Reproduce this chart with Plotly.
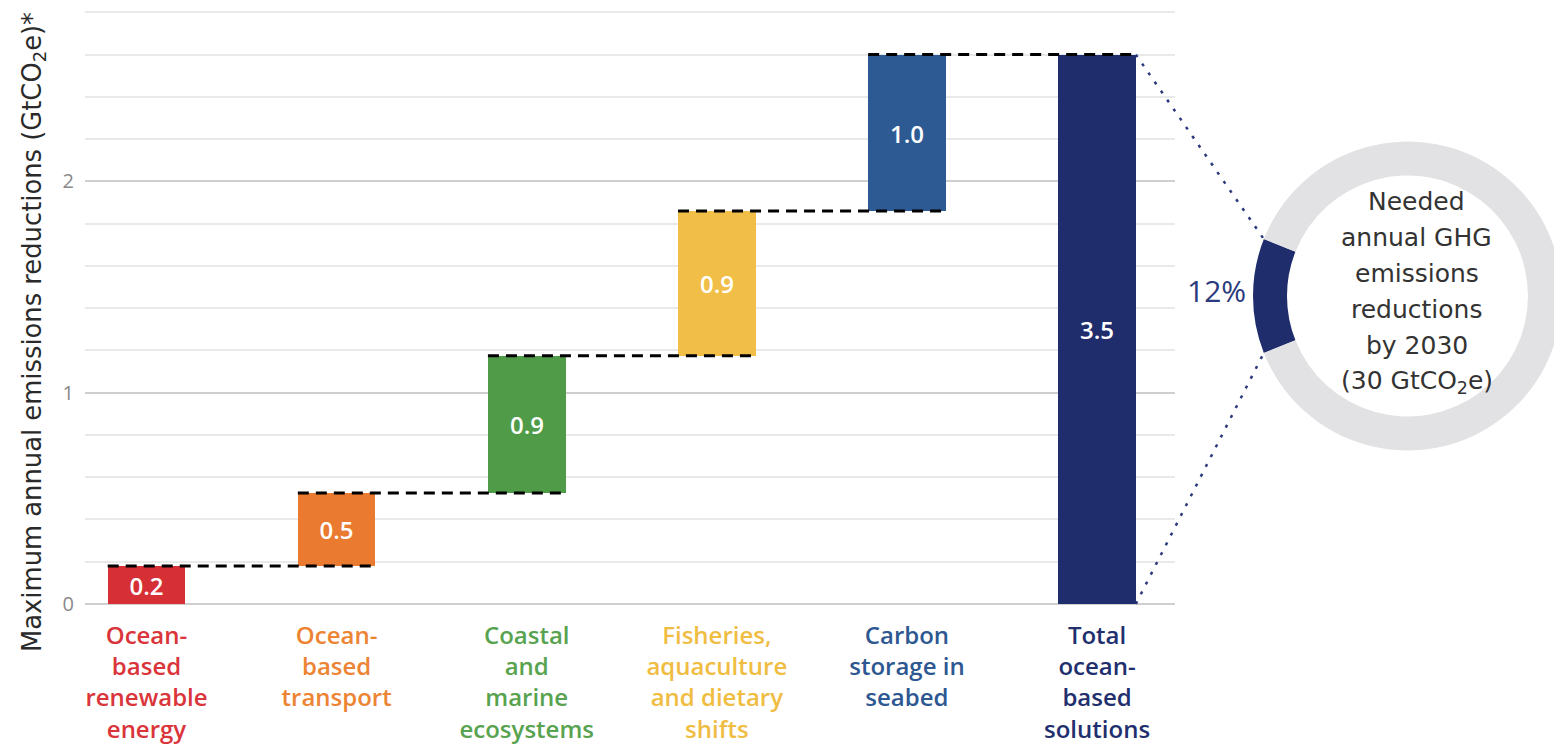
import plotly.graph_objects as go
import numpy as np

# ---------------- data ----------------
categories = [
    "Ocean-<br>based<br>renewable<br>energy",
    "Ocean-<br>based<br>transport",
    "Coastal<br>and<br>marine<br>ecosystems",
    "Fisheries,<br>aquaculture<br>and dietary<br>shifts",
    "Carbon<br>storage in<br>seabed",
    "Total<br>ocean-<br>based<br>solutions",
]
# step heights as drawn on the axis (axis units)
step_heights = [0.18, 0.345, 0.65, 0.685, 0.74]
# labels printed inside the bars
value_labels = ["0.2", "0.5", "0.9", "0.9", "1.0", "3.5"]
bar_colors = ["#d62f36", "#e97a30", "#4f9b48", "#f1bf47", "#2e5a94", "#1f2d6c"]
label_colors = ["#d9353b", "#ec8433", "#58a350", "#f0bd43", "#2d5891", "#222f6e"]
y_tickvals = [0, 1, 2]
y_ticktext = ["0", "1", "2"]
ring_values = [12, 88]
ring_pct_label = "12%"
ring_text_lines = ["Needed", "annual GHG", "emissions", "reductions", "by 2030",
                   "(30 GtCO<sub>2</sub>e)"]
y_title = "Maximum annual emissions reductions (GtCO<sub>2</sub>e)*"

# ---------------- layout geometry ----------------
OFF = 8                      # page body margin in the browser
W, H = 1562 - OFF, 750 - OFF
ML, MR, MT = 85 - OFF, 0, 0
MB = H - round(604.3 - OFF)
PW, PH = W - ML - MR, H - MT - MB
x_dom_end = 1090 / PW
xmin, xmax = -0.3235, 5.41
ymin, ymax = 0.0, PH / 211.3
BAR_W = 0.408

FONT = "Open Sans"
WIDE = "DejaVu Sans"
NAVY = "#1f2d6c"

def px_to_paper(px, py):
    """target-picture pixel -> paper coords"""
    fx, fy = px - OFF, py - OFF
    return (fx - ML) / PW, (H - MB - fy) / PH

# ---------------- derived waterfall values ----------------
cum = np.cumsum(step_heights)
total = float(cum[-1])
xs = list(range(len(categories)))
ys = list(step_heights) + [total]
bases = [0.0] + list(cum[:-1]) + [0.0]

fig = go.Figure()

fig.add_trace(go.Bar(
    x=xs, y=ys, base=bases, width=BAR_W,
    marker=dict(color=bar_colors, line=dict(width=0)),
    text=value_labels, textposition="inside", insidetextanchor="middle",
    textangle=0, constraintext="none",
    textfont=dict(color="white", size=24, family=FONT, weight=600),
    hoverinfo="skip", showlegend=False,
))

# dashed connectors from left edge of bar i to right edge of bar i+1
cx, cy = [], []
for i in range(len(step_heights)):
    cx += [xs[i] - BAR_W / 2, xs[i + 1] + BAR_W / 2, None]
    cy += [cum[i], cum[i], None]
fig.add_trace(go.Scatter(
    x=cx, y=cy, mode="lines",
    line=dict(color="black", width=3, dash="11px,7px"),
    hoverinfo="skip", showlegend=False,
))

# ---------------- ring (pie) ----------------
ring_left_px, ring_right_px = 1253, 1562
ring_cy_px = 296
ring_d = ring_right_px - ring_left_px
ring_cx_px = (ring_left_px + ring_right_px) / 2
R = ring_d / 2
dx0, dy_top = px_to_paper(ring_left_px, ring_cy_px - R - 10)
dx1, dy_bot = px_to_paper(ring_right_px, ring_cy_px + R + 10)

share = ring_values[0] / sum(ring_values)
half_deg = share * 360 / 2
fig.add_trace(go.Pie(
    values=ring_values, hole=0.78, sort=False, direction="clockwise",
    rotation=270 - half_deg,
    marker=dict(colors=[NAVY, "#e2e2e4"], line=dict(width=0)),
    textinfo="none", hoverinfo="skip", showlegend=False,
    domain=dict(x=[max(dx0, 0), min(dx1, 1)], y=[max(dy_bot, 0), min(dy_top, 1)]),
))

# dotted lines from total bar corners to ring segment ends
def data_to_paper(x, y):
    return (x_dom_end * (x - xmin) / (xmax - xmin), (y - ymin) / (ymax - ymin))

bx, by_top = data_to_paper(xs[-1] + BAR_W / 2, total)
_, by_bot = data_to_paper(xs[-1] + BAR_W / 2, 0)
ang = np.radians(half_deg)
ex_px = ring_cx_px - R * np.cos(ang)
ey_top_px = ring_cy_px - R * np.sin(ang)
ey_bot_px = ring_cy_px + R * np.sin(ang)
ex, ey_top = px_to_paper(ex_px, ey_top_px)
_, ey_bot = px_to_paper(ex_px, ey_bot_px)
shapes = [
    dict(type="line", xref="paper", yref="paper", x0=bx, y0=by_top, x1=ex, y1=ey_top,
         line=dict(color="#2b3a7c", width=2.5, dash="3px,8px")),
    dict(type="line", xref="paper", yref="paper", x0=bx, y0=by_bot, x1=ex, y1=ey_bot,
         line=dict(color="#2b3a7c", width=2.5, dash="3px,8px")),
]

annotations = []
# 12% label
px_, py_ = px_to_paper(1216, 290)
annotations.append(dict(x=px_, y=py_, xref="paper", yref="paper", text=ring_pct_label,
                        showarrow=False, xanchor="center", yanchor="middle",
                        font=dict(size=30, color="#2b3a7c", family=FONT)))
# ring text
line_gap = 36
n = len(ring_text_lines)
for k, t in enumerate(ring_text_lines):
    ly = 291.5 + (k - (n - 1) / 2) * line_gap
    ax_, ay_ = px_to_paper(ring_cx_px + 9, ly)
    annotations.append(dict(x=ax_, y=ay_, xref="paper", yref="paper", text=t,
                            showarrow=False, xanchor="center", yanchor="middle",
                            font=dict(size=25, color="#333333", family=WIDE)))
# y title
tx, ty = px_to_paper(33, 332)
annotations.append(dict(x=tx, y=ty, xref="paper", yref="paper", text=y_title,
                        showarrow=False, textangle=-90, xanchor="center", yanchor="middle",
                        font=dict(size=25.8, color="#2a2a2a", family=WIDE)))

ticktext = [f"<span style='color:{c}'>{t}</span>" for t, c in zip(categories, label_colors)]

fig.update_layout(
    width=W, height=H,
    margin=dict(l=ML, r=MR, t=MT, b=MB, pad=0, autoexpand=False),
    paper_bgcolor="white", plot_bgcolor="white",
    showlegend=False, hovermode=False,
    xaxis=dict(domain=[0, x_dom_end], range=[xmin, xmax], tickmode="array",
               tickvals=xs, ticktext=ticktext, showgrid=False, zeroline=False,
               showline=False, ticks="", ticklabelstandoff=15, automargin=False,
               tickfont=dict(size=24, family=FONT, weight=600)),
    yaxis=dict(range=[ymin, ymax], tickmode="array", tickvals=y_tickvals,
               ticktext=y_ticktext, showgrid=True, gridcolor="#cfcfcf", gridwidth=2,
               zeroline=True, zerolinecolor="#cfcfcf", zerolinewidth=2,
               showline=False, ticks="", ticklabelstandoff=10, automargin=False,
               tickfont=dict(size=20, color="#8a8a8a", family=FONT),
               minor=dict(dtick=0.2, tick0=0, showgrid=True, gridcolor="#e9e9e9",
                          gridwidth=1.5)),
    shapes=shapes, annotations=annotations,
    bargap=0,
)

fig.write_html("out.html")
